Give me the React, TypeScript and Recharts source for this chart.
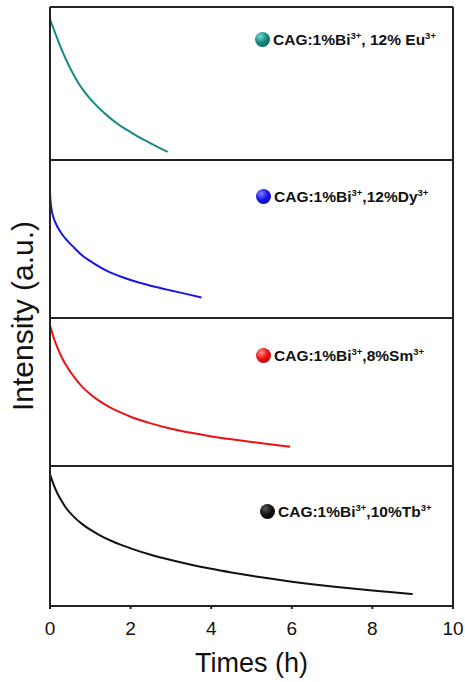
import React from 'react'
import { LineChart, Line, XAxis, YAxis, Legend } from 'recharts'

// decay curves, normalized to each panel (0 = bottom, 1 = top)
const euTime = [0, 0.1, 0.2, 0.3, 0.4, 0.55, 0.7, 0.9, 1.1, 1.3, 1.5, 1.7, 1.9, 2.1, 2.3, 2.5, 2.7, 2.92]
const euValue = [0.92, 0.85, 0.78, 0.715, 0.655, 0.575, 0.505, 0.43, 0.37, 0.318, 0.272, 0.232, 0.198, 0.166, 0.136, 0.108, 0.081, 0.053]

const dyTime = [0, 0.01, 0.03, 0.06, 0.1, 0.15, 0.2, 0.3, 0.4, 0.6, 0.8, 1.0, 1.4, 1.8, 2.2, 2.6, 3.0, 3.4, 3.76]
const dyValue = [0.8, 0.75, 0.7, 0.66, 0.625, 0.595, 0.57, 0.53, 0.497, 0.445, 0.395, 0.36, 0.3, 0.258, 0.225, 0.198, 0.174, 0.151, 0.13]

const smTime = [0, 0.1, 0.2, 0.3, 0.4, 0.6, 0.8, 1.0, 1.25, 1.5, 1.75, 2.0, 2.5, 3.0, 3.5, 4.0, 4.5, 5.0, 5.5, 5.96]
const smValue = [0.95, 0.86, 0.79, 0.73, 0.68, 0.6, 0.535, 0.485, 0.435, 0.395, 0.362, 0.333, 0.288, 0.252, 0.224, 0.2, 0.18, 0.162, 0.145, 0.13]

const tbTime = [0, 0.1, 0.2, 0.3, 0.4, 0.6, 0.8, 1.0, 1.25, 1.5, 1.75, 2.0, 2.5, 3.0, 3.5, 4.0, 4.5, 5.0, 5.5, 6.0, 6.5, 7.0, 7.5, 8.0, 8.5, 9.0]
const tbValue = [0.94, 0.86, 0.795, 0.745, 0.7, 0.635, 0.585, 0.545, 0.503, 0.468, 0.438, 0.412, 0.366, 0.328, 0.295, 0.266, 0.24, 0.216, 0.194, 0.174, 0.156, 0.14, 0.125, 0.111, 0.098, 0.086]

const xTicks = [0, 2, 4, 6, 8, 10]
const hostLabel = 'CAG:1%Bi'
const dopantLabels = [', 12% Eu', ',12%Dy', ',8%Sm', ',10%Tb']

const FONT = '"Liberation Sans", Arial, sans-serif'
const FRAME = '#222'

const toRows = (t: number[], v: number[]) => t.map((time, i) => ({ time, value: v[i] }))

const panels = [
  { rows: toRows(euTime, euValue), color: '#148a84', light: '#7fd6d0', dark: '#07504b', dopant: dopantLabels[0], top: 7, h: 153, legend: { left: 255, top: 24 } },
  { rows: toRows(dyTime, dyValue), color: '#1616e6', light: '#7f7fff', dark: '#00008a', dopant: dopantLabels[1], top: 160, h: 158, legend: { left: 256, top: 28 } },
  { rows: toRows(smTime, smValue), color: '#ee1111', light: '#ff9090', dark: '#8a0000', dopant: dopantLabels[2], top: 318, h: 148, legend: { left: 256, top: 29 } },
  { rows: toRows(tbTime, tbValue), color: '#111111', light: '#555555', dark: '#000000', dopant: dopantLabels[3], top: 466, h: 140, legend: { left: 260, top: 37 } },
]

function LegendItem({ color, light, dark, dopant }: any) {
  const sup = { fontSize: 9.5, lineHeight: 0 }
  return (
    <div style={{ display: 'flex', alignItems: 'center', fontFamily: FONT, fontWeight: 'bold', fontSize: 15.5, color: '#111', whiteSpace: 'nowrap', lineHeight: '17px' }}>
      <span
        style={{
          display: 'inline-block',
          width: 15,
          height: 15,
          borderRadius: '50%',
          marginRight: 3,
          background: `radial-gradient(circle at 35% 30%, ${light} 0%, ${color} 45%, ${dark} 100%)`,
        }}
      />
      <span>
        {hostLabel}
        <sup style={sup}>3+</sup>
        {dopant}
        <sup style={sup}>3+</sup>
      </span>
    </div>
  )
}

function Panel({ p, last }: any) {
  const pad = 2
  const axisH = 76
  const height = p.h + pad + (last ? axisH : pad)
  const frame = { stroke: FRAME, strokeWidth: 2 }
  return (
    <div style={{ position: 'absolute', left: 0, top: p.top - pad }}>
      <LineChart width={465} height={height} data={p.rows} margin={{ top: pad - 1, right: 11, bottom: last ? 0 : pad - 1, left: 49 }}>
        <XAxis
          dataKey="time"
          type="number"
          domain={[0, 10]}
          ticks={xTicks}
          height={last ? axisH : 1}
          tick={last ? { fontSize: 19, fill: '#111', fontFamily: FONT } : false}
          tickLine={last ? frame : false}
          tickSize={3}
          tickMargin={13}
          axisLine={frame}
          label={last ? { value: 'Times (h)', position: 'insideBottom', offset: 10, fontSize: 27, fill: '#111', fontFamily: FONT } : undefined}
        />
        <XAxis xAxisId="top" orientation="top" type="number" domain={[0, 10]} height={1} tick={false} tickLine={false} axisLine={frame} />
        <YAxis type="number" domain={[0, 1]} width={1} tick={false} tickLine={false} axisLine={frame} />
        <YAxis yAxisId="r" orientation="right" type="number" domain={[0, 1]} width={1} tick={false} tickLine={false} axisLine={frame} />
        <Legend
          layout="horizontal"
          verticalAlign="middle"
          align="center"
          wrapperStyle={{ left: p.legend.left, top: p.legend.top + pad, width: 'auto' }}
          content={() => <LegendItem color={p.color} light={p.light} dark={p.dark} dopant={p.dopant} />}
        />
        <Line type="monotone" dataKey="value" stroke={p.color} strokeWidth={2} dot={false} isAnimationActive={false} />
      </LineChart>
    </div>
  )
}

export default function App() {
  return (
    <div style={{ position: 'absolute', left: 0, top: 0, width: 465, height: 682, background: '#fff' }}>
      {panels.map((p, i) => (
        <Panel key={i} p={p} last={i === panels.length - 1} />
      ))}
      <div
        style={{
          position: 'absolute',
          left: 23,
          top: 316,
          transform: 'translate(-50%, -50%) rotate(-90deg)',
          fontFamily: FONT,
          fontSize: 30,
          color: '#111',
          whiteSpace: 'nowrap',
        }}
      >
        Intensity (a.u.)
      </div>
    </div>
  )
}
